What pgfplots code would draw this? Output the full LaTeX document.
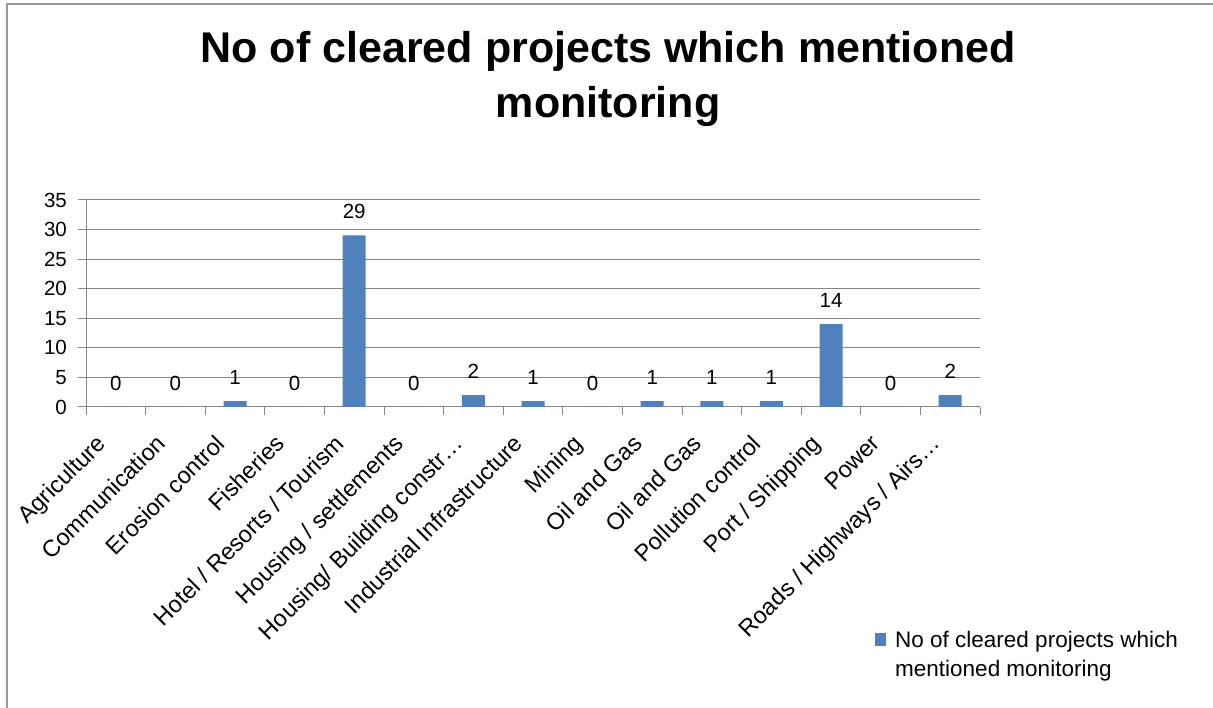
\documentclass[border=0pt]{standalone}
\usepackage{pgfplots}
\pgfplotsset{compat=1.18}
\usepackage{fontspec}
\setmainfont{Liberation Sans}
\definecolor{barblue}{HTML}{4F81BD}
\definecolor{gridgray}{HTML}{868686}
\begin{document}
\begin{tikzpicture}[x=1pt,y=1pt]
\path[use as bounding box] (0,0) rectangle (1213,708);
\draw[color=black!40, line width=1.5pt] (7,0) -- (7,704) -- (1213,704);
\begin{axis}[
  at={(86pt,301pt)}, anchor=south west,
  width=894pt, height=207pt, scale only axis,
  /pgf/number format/assume math mode=true,
  xmin=-0.5, xmax=14.5, ymin=0, ymax=35,
  ytick={0,5,10,15,20,25,30,35},
  xtick={-0.5,0.5,1.5,2.5,3.5,4.5,5.5,6.5,7.5,8.5,9.5,10.5,11.5,12.5,13.5},
  xticklabels={Agriculture, Communication, Erosion control, Fisheries, Hotel / Resorts / Tourism, Housing / settlements, Housing/ Building constr…, Industrial Infrastructure, Mining, Oil and Gas, Oil and Gas, Pollution control, Port / Shipping, Power, Roads / Highways / Airs…},
  extra x ticks={14.5}, extra x tick labels={},
  axis x line*=bottom, axis y line*=left,
  axis line style={-, gridgray, line width=1pt},
  every outer x axis line/.append style={-},
  every outer y axis line/.append style={-},
  tick align=outside, major tick length=8pt,
  tick style={gridgray, line width=1pt},
  ymajorgrids, major grid style={gridgray, line width=1pt},
  tick label style={font=\fontsize{20.5}{24}\selectfont},
  yticklabel style={anchor=east, inner sep=0pt, xshift=-11pt},
  xticklabel style={font=\fontsize{23.5}{28}\selectfont, inner sep=0pt, anchor=north east, xshift=9pt, yshift=-18pt, rotate=45},
  ybar, bar width=23pt, bar shift=0pt,
  nodes near coords,
  every node near coord/.append style={font=\fontsize{20.5}{24}\selectfont, anchor=base, inner sep=0pt, yshift=16.5pt, text=black},
  title={No of cleared projects which mentioned\\monitoring},
  title style={at={(0.584,1.788)}, anchor=north, inner sep=0pt, align=center, font=\fontsize{43}{55}\selectfont\bfseries},
  legend style={draw=none, fill=none, at={(0.8792,-1.072)}, anchor=north west, font=\fontsize{22.5}{29}\selectfont, nodes={inner sep=0pt, align=left}, column sep=9pt},
  legend cell align=left,
  legend image code/.code={\fill[barblue] (0pt,8pt) rectangle (11pt,21pt);},
]
\addplot[fill=barblue, draw=none] coordinates {
(0,0) (1,0) (2,1) (3,0) (4,29) (5,0) (6,2) (7,1) (8,0) (9,1) (10,1) (11,1) (12,14) (13,0) (14,2)
};
\addlegendentry{No of cleared projects which\\mentioned monitoring}
\end{axis}
\end{tikzpicture}
\end{document}
